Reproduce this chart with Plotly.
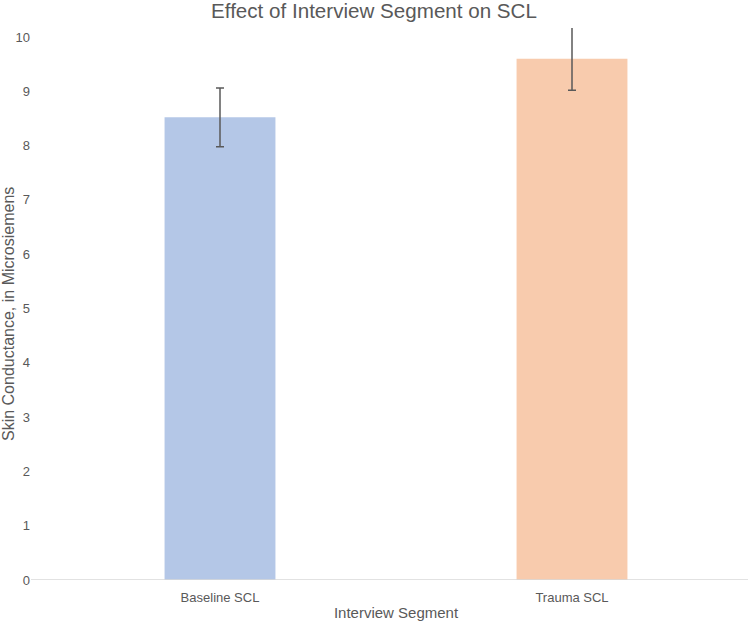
import plotly.graph_objects as go

categories = ["Baseline SCL", "Trauma SCL"]
means = [8.52, 9.60]
errors = [0.54, 0.58]
bar_colors = ["#b4c7e7", "#f8cbad"]
y_ticks = list(range(0, 11))

FONT = "Liberation Sans, Arial, sans-serif"
TEXT = "#595959"

fig = go.Figure(
    go.Bar(
        x=categories,
        y=means,
        marker=dict(color=bar_colors, line=dict(width=0)),
        error_y=dict(type="data", array=errors, visible=True,
                     color="#595959", thickness=1.5, width=4),
        cliponaxis=True,
        showlegend=False,
    )
)

fig.update_layout(
    width=748, height=625,
    margin=dict(l=44, r=0, t=28, b=45),
    paper_bgcolor="white", plot_bgcolor="white",
    bargap=0.685,
    title=dict(text="Effect of Interview Segment on SCL", x=0.5, xanchor="center",
               y=1 - 11 / 625, yanchor="middle",
               font=dict(family=FONT, size=20.6, color=TEXT)),
    font=dict(family=FONT, color=TEXT),
    xaxis=dict(
        showgrid=False, showline=False, zeroline=False, ticks="",
        ticklabelstandoff=8,
        tickfont=dict(size=13, color=TEXT, family=FONT),
        title=dict(text="Interview Segment", standoff=3,
                   font=dict(size=15, color=TEXT, family=FONT)),
    ),
    yaxis=dict(
        range=[0, 10.165], tickvals=y_ticks, showgrid=False, showline=False,
        zeroline=False, ticks="", ticklabelstandoff=13,
        tickfont=dict(size=13, color=TEXT, family=FONT),
    ),
    annotations=[dict(text="Skin Conductance, in Microsiemens", textangle=-90,
                      xref="paper", yref="paper", x=-36 / 704, y=(580 - 314) / 552,
                      xanchor="center", yanchor="middle", showarrow=False,
                      font=dict(size=16, color=TEXT, family=FONT))],
    shapes=[dict(type="line", xref="paper", yref="y", x0=-13 / 704, x1=1, y0=0, y1=0,
                 line=dict(color="#d9d9d9", width=1.5), layer="above")],
)

fig.write_html("out.html", config={"displayModeBar": False},
               post_script="document.body.style.margin='0px';")
